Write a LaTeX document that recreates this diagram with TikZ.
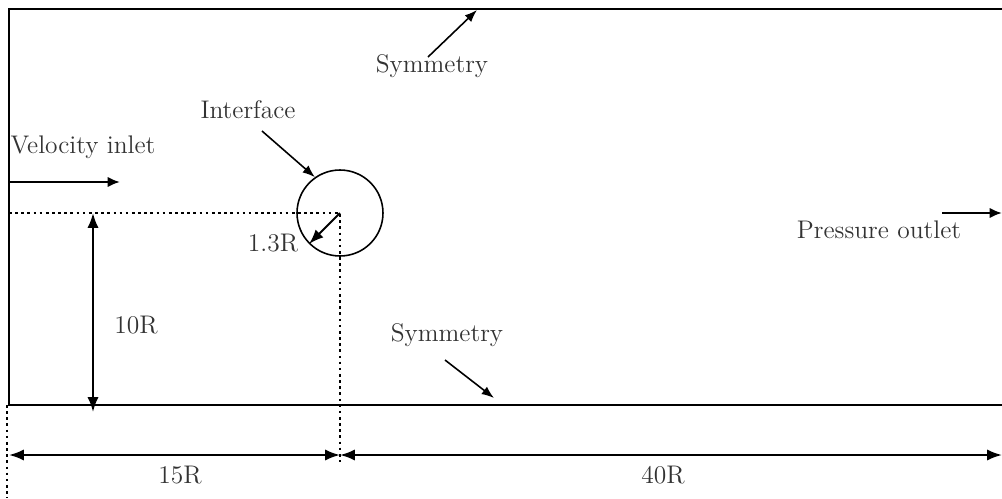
\documentclass[tikz,border=0pt]{standalone}
\usepackage{tikz}
\usetikzlibrary{arrows.meta,positioning}

\begin{document}
\begin{tikzpicture}[x=0.02cm,y=-0.02cm,>=Latex,
  lbl/.style={inner sep=0pt,font=\fontsize{14.5}{17}\selectfont,text=black!80},
  wall/.style={line width=1.5pt},
  flow/.style={-{Latex[length=7pt,width=6pt]},line width=1.4pt},
  pointer/.style={->,line width=0.9pt},
  dim/.style={<->,line width=1.2pt},
  guide/.style={line width=1.4pt,dash pattern=on 1.5pt off 2pt}]
\useasboundingbox (0,0) rectangle (1002,498);

% domain
\coordinate (tl) at (9,9);
\coordinate (tr) at (1002,9);
\coordinate (bl) at (9,405);
\coordinate (br) at (1002,405);
\draw[wall] (tr) -- (tl) -- (bl) -- (br);

% cylinder
\coordinate (c) at (340,213);
\node[draw,circle,line width=0.9pt,minimum size=1.72cm,inner sep=0pt] (cyl) at (c) {};
\draw[guide] (9,213) -- (c) -- (340,462);
\draw[guide] (7,405) -- (7,498);
\draw[->,line width=1.2pt] (c) -- (cyl.225);

% labels
\node[lbl] (inlet) at (83,147) {Velocity inlet};
\node[lbl] (iface) at (248,110) {Interface};
\node[lbl] (rad) at (273,243) {1.3R};
\node[lbl] (symtop) at (432,66) {Symmetry};
\node[lbl] (symbot) at (447,335) {Symmetry};
\node[lbl] (h) at (136,325) {10R};
\node[lbl] (outlet) at (879,230) {Pressure outlet};
\node[lbl] (l1) at (180,475) {15R};
\node[lbl] (l2) at (663,475) {40R};

% arrows
\coordinate (in1) at (9,182);
\coordinate (in2) at (120,182);
\draw[flow] (in1) -- (in2);
\coordinate (out1) at (942,213);
\coordinate (out2) at (1002,213);
\draw[flow] (out1) -- (out2);
\draw[pointer] (262,131) -- (cyl.125);
\draw[pointer] (428,57) -- (477,10);
\draw[pointer] (445,360) -- (494,398);
\draw[dim] (93,213) -- (93,412);
\coordinate (d0) at (9,455);
\coordinate (d1) at (340,455);
\coordinate (d2) at (1002,455);
\draw[dim] (d0) -- (d1);
\draw[dim] (d1) -- (d2);
\end{tikzpicture}
\end{document}
